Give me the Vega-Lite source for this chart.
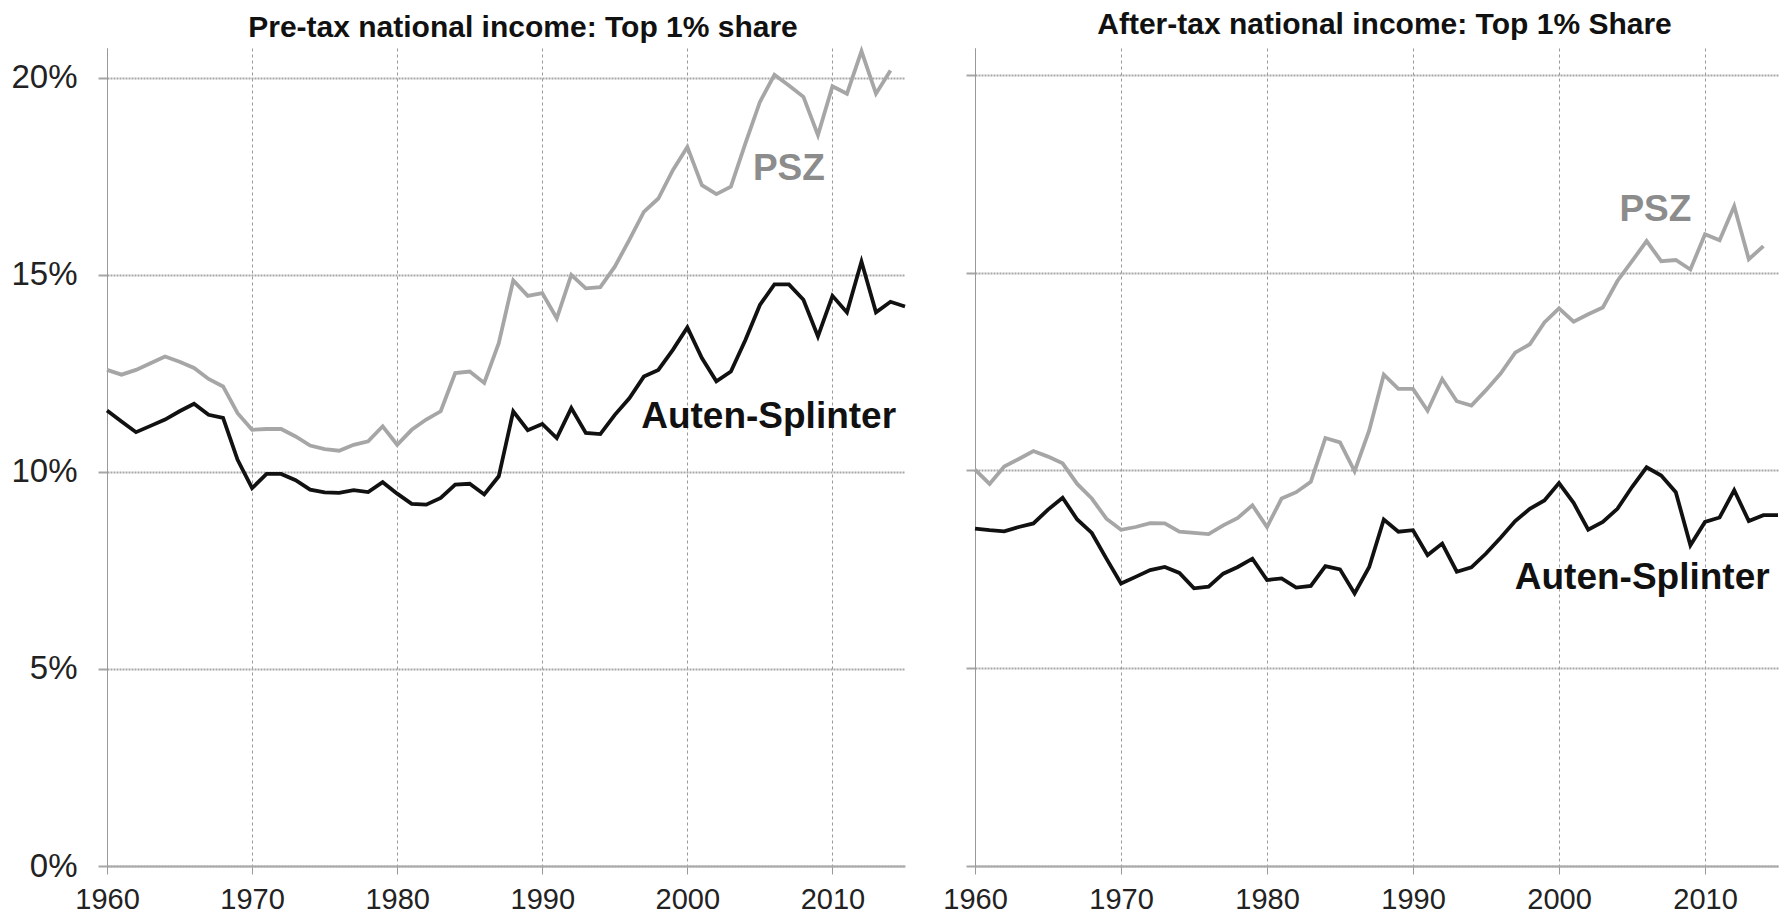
{
  "$schema": "https://vega.github.io/schema/vega-lite/v6.json",
  "background": "white",
  "padding": {"left": 10, "top": 10, "right": 5, "bottom": 3},
  "config": {"view": {"stroke": null}},
  "spacing": 70,
  "bounds": "flush",
  "datasets": {
    "lines": [
      {"panel":"pre","series":"PSZ","year":1960,"value":12.59},{"panel":"pre","series":"PSZ","year":1961,"value":12.47},{"panel":"pre","series":"PSZ","year":1962,"value":12.59},{"panel":"pre","series":"PSZ","year":1963,"value":12.76},{"panel":"pre","series":"PSZ","year":1964,"value":12.93},{"panel":"pre","series":"PSZ","year":1965,"value":12.80},{"panel":"pre","series":"PSZ","year":1966,"value":12.64},{"panel":"pre","series":"PSZ","year":1967,"value":12.36},{"panel":"pre","series":"PSZ","year":1968,"value":12.17},{"panel":"pre","series":"PSZ","year":1969,"value":11.49},
      {"panel":"pre","series":"PSZ","year":1970,"value":11.07},{"panel":"pre","series":"PSZ","year":1971,"value":11.09},{"panel":"pre","series":"PSZ","year":1972,"value":11.09},{"panel":"pre","series":"PSZ","year":1973,"value":10.90},{"panel":"pre","series":"PSZ","year":1974,"value":10.67},{"panel":"pre","series":"PSZ","year":1975,"value":10.58},{"panel":"pre","series":"PSZ","year":1976,"value":10.54},{"panel":"pre","series":"PSZ","year":1977,"value":10.69},{"panel":"pre","series":"PSZ","year":1978,"value":10.78},{"panel":"pre","series":"PSZ","year":1979,"value":11.16},
      {"panel":"pre","series":"PSZ","year":1980,"value":10.69},{"panel":"pre","series":"PSZ","year":1981,"value":11.07},{"panel":"pre","series":"PSZ","year":1982,"value":11.33},{"panel":"pre","series":"PSZ","year":1983,"value":11.54},{"panel":"pre","series":"PSZ","year":1984,"value":12.51},{"panel":"pre","series":"PSZ","year":1985,"value":12.55},{"panel":"pre","series":"PSZ","year":1986,"value":12.26},{"panel":"pre","series":"PSZ","year":1987,"value":13.27},{"panel":"pre","series":"PSZ","year":1988,"value":14.86},{"panel":"pre","series":"PSZ","year":1989,"value":14.47},
      {"panel":"pre","series":"PSZ","year":1990,"value":14.54},{"panel":"pre","series":"PSZ","year":1991,"value":13.90},{"panel":"pre","series":"PSZ","year":1992,"value":15.00},{"panel":"pre","series":"PSZ","year":1993,"value":14.66},{"panel":"pre","series":"PSZ","year":1994,"value":14.69},{"panel":"pre","series":"PSZ","year":1995,"value":15.21},{"panel":"pre","series":"PSZ","year":1996,"value":15.89},{"panel":"pre","series":"PSZ","year":1997,"value":16.60},{"panel":"pre","series":"PSZ","year":1998,"value":16.94},{"panel":"pre","series":"PSZ","year":1999,"value":17.66},
      {"panel":"pre","series":"PSZ","year":2000,"value":18.25},{"panel":"pre","series":"PSZ","year":2001,"value":17.28},{"panel":"pre","series":"PSZ","year":2002,"value":17.05},{"panel":"pre","series":"PSZ","year":2003,"value":17.24},{"panel":"pre","series":"PSZ","year":2004,"value":18.34},{"panel":"pre","series":"PSZ","year":2005,"value":19.39},{"panel":"pre","series":"PSZ","year":2006,"value":20.08},{"panel":"pre","series":"PSZ","year":2007,"value":19.81},{"panel":"pre","series":"PSZ","year":2008,"value":19.52},{"panel":"pre","series":"PSZ","year":2009,"value":18.55},
      {"panel":"pre","series":"PSZ","year":2010,"value":19.79},{"panel":"pre","series":"PSZ","year":2011,"value":19.60},{"panel":"pre","series":"PSZ","year":2012,"value":20.68},{"panel":"pre","series":"PSZ","year":2013,"value":19.60},{"panel":"pre","series":"PSZ","year":2014,"value":20.19},

      {"panel":"pre","series":"Auten-Splinter","year":1960,"value":11.56},{"panel":"pre","series":"Auten-Splinter","year":1961,"value":11.28},{"panel":"pre","series":"Auten-Splinter","year":1962,"value":11.01},{"panel":"pre","series":"Auten-Splinter","year":1963,"value":11.17},{"panel":"pre","series":"Auten-Splinter","year":1964,"value":11.33},{"panel":"pre","series":"Auten-Splinter","year":1965,"value":11.54},{"panel":"pre","series":"Auten-Splinter","year":1966,"value":11.73},{"panel":"pre","series":"Auten-Splinter","year":1967,"value":11.45},{"panel":"pre","series":"Auten-Splinter","year":1968,"value":11.37},{"panel":"pre","series":"Auten-Splinter","year":1969,"value":10.31},
      {"panel":"pre","series":"Auten-Splinter","year":1970,"value":9.59},{"panel":"pre","series":"Auten-Splinter","year":1971,"value":9.95},{"panel":"pre","series":"Auten-Splinter","year":1972,"value":9.95},{"panel":"pre","series":"Auten-Splinter","year":1973,"value":9.79},{"panel":"pre","series":"Auten-Splinter","year":1974,"value":9.55},{"panel":"pre","series":"Auten-Splinter","year":1975,"value":9.48},{"panel":"pre","series":"Auten-Splinter","year":1976,"value":9.47},{"panel":"pre","series":"Auten-Splinter","year":1977,"value":9.54},{"panel":"pre","series":"Auten-Splinter","year":1978,"value":9.49},{"panel":"pre","series":"Auten-Splinter","year":1979,"value":9.74},
      {"panel":"pre","series":"Auten-Splinter","year":1980,"value":9.45},{"panel":"pre","series":"Auten-Splinter","year":1981,"value":9.19},{"panel":"pre","series":"Auten-Splinter","year":1982,"value":9.17},{"panel":"pre","series":"Auten-Splinter","year":1983,"value":9.34},{"panel":"pre","series":"Auten-Splinter","year":1984,"value":9.68},{"panel":"pre","series":"Auten-Splinter","year":1985,"value":9.70},{"panel":"pre","series":"Auten-Splinter","year":1986,"value":9.43},{"panel":"pre","series":"Auten-Splinter","year":1987,"value":9.89},{"panel":"pre","series":"Auten-Splinter","year":1988,"value":11.54},{"panel":"pre","series":"Auten-Splinter","year":1989,"value":11.06},
      {"panel":"pre","series":"Auten-Splinter","year":1990,"value":11.22},{"panel":"pre","series":"Auten-Splinter","year":1991,"value":10.86},{"panel":"pre","series":"Auten-Splinter","year":1992,"value":11.62},{"panel":"pre","series":"Auten-Splinter","year":1993,"value":10.99},{"panel":"pre","series":"Auten-Splinter","year":1994,"value":10.96},{"panel":"pre","series":"Auten-Splinter","year":1995,"value":11.45},{"panel":"pre","series":"Auten-Splinter","year":1996,"value":11.87},{"panel":"pre","series":"Auten-Splinter","year":1997,"value":12.42},{"panel":"pre","series":"Auten-Splinter","year":1998,"value":12.59},{"panel":"pre","series":"Auten-Splinter","year":1999,"value":13.10},
      {"panel":"pre","series":"Auten-Splinter","year":2000,"value":13.67},{"panel":"pre","series":"Auten-Splinter","year":2001,"value":12.89},{"panel":"pre","series":"Auten-Splinter","year":2002,"value":12.30},{"panel":"pre","series":"Auten-Splinter","year":2003,"value":12.55},{"panel":"pre","series":"Auten-Splinter","year":2004,"value":13.35},{"panel":"pre","series":"Auten-Splinter","year":2005,"value":14.24},{"panel":"pre","series":"Auten-Splinter","year":2006,"value":14.76},{"panel":"pre","series":"Auten-Splinter","year":2007,"value":14.76},{"panel":"pre","series":"Auten-Splinter","year":2008,"value":14.37},{"panel":"pre","series":"Auten-Splinter","year":2009,"value":13.44},
      {"panel":"pre","series":"Auten-Splinter","year":2010,"value":14.47},{"panel":"pre","series":"Auten-Splinter","year":2011,"value":14.05},{"panel":"pre","series":"Auten-Splinter","year":2012,"value":15.34},{"panel":"pre","series":"Auten-Splinter","year":2013,"value":14.05},{"panel":"pre","series":"Auten-Splinter","year":2014,"value":14.32},{"panel":"pre","series":"Auten-Splinter","year":2015,"value":14.20},

      {"panel":"post","series":"PSZ","year":1960,"value":10.02},{"panel":"post","series":"PSZ","year":1961,"value":9.66},{"panel":"post","series":"PSZ","year":1962,"value":10.10},{"panel":"post","series":"PSZ","year":1963,"value":10.29},{"panel":"post","series":"PSZ","year":1964,"value":10.49},{"panel":"post","series":"PSZ","year":1965,"value":10.35},{"panel":"post","series":"PSZ","year":1966,"value":10.18},{"panel":"post","series":"PSZ","year":1967,"value":9.66},{"panel":"post","series":"PSZ","year":1968,"value":9.29},{"panel":"post","series":"PSZ","year":1969,"value":8.78},
      {"panel":"post","series":"PSZ","year":1970,"value":8.50},{"panel":"post","series":"PSZ","year":1971,"value":8.57},{"panel":"post","series":"PSZ","year":1972,"value":8.67},{"panel":"post","series":"PSZ","year":1973,"value":8.66},{"panel":"post","series":"PSZ","year":1974,"value":8.45},{"panel":"post","series":"PSZ","year":1975,"value":8.42},{"panel":"post","series":"PSZ","year":1976,"value":8.39},{"panel":"post","series":"PSZ","year":1977,"value":8.61},{"panel":"post","series":"PSZ","year":1978,"value":8.80},{"panel":"post","series":"PSZ","year":1979,"value":9.12},
      {"panel":"post","series":"PSZ","year":1980,"value":8.57},{"panel":"post","series":"PSZ","year":1981,"value":9.29},{"panel":"post","series":"PSZ","year":1982,"value":9.45},{"panel":"post","series":"PSZ","year":1983,"value":9.71},{"panel":"post","series":"PSZ","year":1984,"value":10.82},{"panel":"post","series":"PSZ","year":1985,"value":10.71},{"panel":"post","series":"PSZ","year":1986,"value":9.98},{"panel":"post","series":"PSZ","year":1987,"value":11.01},{"panel":"post","series":"PSZ","year":1988,"value":12.42},{"panel":"post","series":"PSZ","year":1989,"value":12.06},
      {"panel":"post","series":"PSZ","year":1990,"value":12.06},{"panel":"post","series":"PSZ","year":1991,"value":11.51},{"panel":"post","series":"PSZ","year":1992,"value":12.31},{"panel":"post","series":"PSZ","year":1993,"value":11.75},{"panel":"post","series":"PSZ","year":1994,"value":11.64},{"panel":"post","series":"PSZ","year":1995,"value":12.03},{"panel":"post","series":"PSZ","year":1996,"value":12.45},{"panel":"post","series":"PSZ","year":1997,"value":12.98},{"panel":"post","series":"PSZ","year":1998,"value":13.19},{"panel":"post","series":"PSZ","year":1999,"value":13.74},
      {"panel":"post","series":"PSZ","year":2000,"value":14.10},{"panel":"post","series":"PSZ","year":2001,"value":13.76},{"panel":"post","series":"PSZ","year":2002,"value":13.95},{"panel":"post","series":"PSZ","year":2003,"value":14.12},{"panel":"post","series":"PSZ","year":2004,"value":14.79},{"panel":"post","series":"PSZ","year":2005,"value":15.29},{"panel":"post","series":"PSZ","year":2006,"value":15.80},{"panel":"post","series":"PSZ","year":2007,"value":15.29},{"panel":"post","series":"PSZ","year":2008,"value":15.32},{"panel":"post","series":"PSZ","year":2009,"value":15.08},
      {"panel":"post","series":"PSZ","year":2010,"value":15.97},{"panel":"post","series":"PSZ","year":2011,"value":15.82},{"panel":"post","series":"PSZ","year":2012,"value":16.68},{"panel":"post","series":"PSZ","year":2013,"value":15.34},{"panel":"post","series":"PSZ","year":2014,"value":15.67},

      {"panel":"post","series":"Auten-Splinter","year":1960,"value":8.53},{"panel":"post","series":"Auten-Splinter","year":1961,"value":8.49},{"panel":"post","series":"Auten-Splinter","year":1962,"value":8.46},{"panel":"post","series":"Auten-Splinter","year":1963,"value":8.57},{"panel":"post","series":"Auten-Splinter","year":1964,"value":8.66},{"panel":"post","series":"Auten-Splinter","year":1965,"value":9.01},{"panel":"post","series":"Auten-Splinter","year":1966,"value":9.31},{"panel":"post","series":"Auten-Splinter","year":1967,"value":8.76},{"panel":"post","series":"Auten-Splinter","year":1968,"value":8.42},{"panel":"post","series":"Auten-Splinter","year":1969,"value":7.77},
      {"panel":"post","series":"Auten-Splinter","year":1970,"value":7.14},{"panel":"post","series":"Auten-Splinter","year":1971,"value":7.31},{"panel":"post","series":"Auten-Splinter","year":1972,"value":7.48},{"panel":"post","series":"Auten-Splinter","year":1973,"value":7.56},{"panel":"post","series":"Auten-Splinter","year":1974,"value":7.41},{"panel":"post","series":"Auten-Splinter","year":1975,"value":7.02},{"panel":"post","series":"Auten-Splinter","year":1976,"value":7.06},{"panel":"post","series":"Auten-Splinter","year":1977,"value":7.39},{"panel":"post","series":"Auten-Splinter","year":1978,"value":7.56},{"panel":"post","series":"Auten-Splinter","year":1979,"value":7.77},
      {"panel":"post","series":"Auten-Splinter","year":1980,"value":7.23},{"panel":"post","series":"Auten-Splinter","year":1981,"value":7.27},{"panel":"post","series":"Auten-Splinter","year":1982,"value":7.04},{"panel":"post","series":"Auten-Splinter","year":1983,"value":7.08},{"panel":"post","series":"Auten-Splinter","year":1984,"value":7.58},{"panel":"post","series":"Auten-Splinter","year":1985,"value":7.50},{"panel":"post","series":"Auten-Splinter","year":1986,"value":6.89},{"panel":"post","series":"Auten-Splinter","year":1987,"value":7.56},{"panel":"post","series":"Auten-Splinter","year":1988,"value":8.76},{"panel":"post","series":"Auten-Splinter","year":1989,"value":8.45},
      {"panel":"post","series":"Auten-Splinter","year":1990,"value":8.49},{"panel":"post","series":"Auten-Splinter","year":1991,"value":7.86},{"panel":"post","series":"Auten-Splinter","year":1992,"value":8.15},{"panel":"post","series":"Auten-Splinter","year":1993,"value":7.44},{"panel":"post","series":"Auten-Splinter","year":1994,"value":7.55},{"panel":"post","series":"Auten-Splinter","year":1995,"value":7.90},{"panel":"post","series":"Auten-Splinter","year":1996,"value":8.30},{"panel":"post","series":"Auten-Splinter","year":1997,"value":8.72},{"panel":"post","series":"Auten-Splinter","year":1998,"value":9.03},{"panel":"post","series":"Auten-Splinter","year":1999,"value":9.24},
      {"panel":"post","series":"Auten-Splinter","year":2000,"value":9.68},{"panel":"post","series":"Auten-Splinter","year":2001,"value":9.18},{"panel":"post","series":"Auten-Splinter","year":2002,"value":8.50},{"panel":"post","series":"Auten-Splinter","year":2003,"value":8.70},{"panel":"post","series":"Auten-Splinter","year":2004,"value":9.03},{"panel":"post","series":"Auten-Splinter","year":2005,"value":9.58},{"panel":"post","series":"Auten-Splinter","year":2006,"value":10.08},{"panel":"post","series":"Auten-Splinter","year":2007,"value":9.87},{"panel":"post","series":"Auten-Splinter","year":2008,"value":9.45},{"panel":"post","series":"Auten-Splinter","year":2009,"value":8.11},
      {"panel":"post","series":"Auten-Splinter","year":2010,"value":8.70},{"panel":"post","series":"Auten-Splinter","year":2011,"value":8.81},{"panel":"post","series":"Auten-Splinter","year":2012,"value":9.50},{"panel":"post","series":"Auten-Splinter","year":2013,"value":8.72},{"panel":"post","series":"Auten-Splinter","year":2014,"value":8.87},{"panel":"post","series":"Auten-Splinter","year":2015,"value":8.87}
    ],
    "labels": [
      {"panel":"pre","series":"PSZ","label":"PSZ","year":2007.0,"value":17.7},
      {"panel":"pre","series":"Auten-Splinter","label":"Auten-Splinter","year":2005.6,"value":11.4},
      {"panel":"post","series":"PSZ","label":"PSZ","year":2006.6,"value":16.59},
      {"panel":"post","series":"Auten-Splinter","label":"Auten-Splinter","year":2005.7,"value":7.29}
    ]
  },
  "hconcat": [
    {
      "width": 798,
      "height": 818,
      "title": {"text": "Pre-tax national income: Top 1% share", "font": "Liberation Sans", "fontSize": 30, "fontWeight": "bold", "color": "#111111", "frame": "group", "anchor": "middle", "baseline": "alphabetic", "offset": -23, "dx": 17},
      "layer": [
        {
          "data": {"name": "lines"},
          "transform": [{"filter": "datum.panel === 'pre'"}],
          "mark": {"type": "line", "strokeWidth": 3.8},
          "encoding": {
            "x": {"field": "year", "type": "quantitative", "scale": {"domain": [1960, 2015], "nice": false, "zero": false},
                  "axis": {"title": null, "values": [1960, 1970, 1980, 1990, 2000, 2010], "format": "d", "labelFlush": false, "labelOverlap": false,
                           "grid": true, "gridColor": "#999999", "gridWidth": 1, "gridDash": [3, 3],
                           "tickSize": 8, "tickColor": "#999999", "tickWidth": 1,
                           "domain": true, "domainColor": "#aaaaaa", "domainWidth": 2,
                           "labelFont": "Liberation Sans", "labelFontSize": 29, "labelColor": "#222222", "labelPadding": 11}},
            "y": {"field": "value", "type": "quantitative", "scale": {"domain": [0, 20.76], "nice": false},
                  "axis": {"title": null, "values": [0, 5, 10, 15, 20], "labelExpr": "datum.value + '%'", "labelFlush": false, "labelOverlap": false,
                           "grid": true, "gridColor": "#a6a6a6", "gridWidth": 2, "gridDash": [2, 1],
                           "tickSize": 9, "tickColor": "#a6a6a6", "tickWidth": 2,
                           "domain": true, "domainColor": "#999999", "domainWidth": 1,
                           "labelFont": "Liberation Sans", "labelFontSize": 33, "labelColor": "#222222", "labelPadding": 21}},
            "color": {"field": "series", "type": "nominal", "scale": {"domain": ["PSZ", "Auten-Splinter"], "range": ["#a6a6a6", "#111111"]}, "legend": null}
          }
        },
        {
          "data": {"name": "labels"},
          "transform": [{"filter": "datum.panel === 'pre'"}],
          "mark": {"type": "text", "font": "Liberation Sans", "fontSize": 37, "fontWeight": "bold", "align": "center", "baseline": "middle"},
          "encoding": {
            "x": {"field": "year", "type": "quantitative"},
            "y": {"field": "value", "type": "quantitative"},
            "text": {"field": "label"},
            "color": {"field": "series", "type": "nominal", "scale": {"domain": ["PSZ", "Auten-Splinter"], "range": ["#8c8c8c", "#111111"]}, "legend": null}
          }
        }
      ],
      "resolve": {"scale": {"color": "independent"}}
    },
    {
      "width": 803,
      "height": 818,
      "title": {"text": "After-tax national income: Top 1% Share", "font": "Liberation Sans", "fontSize": 30, "fontWeight": "bold", "color": "#111111", "frame": "group", "anchor": "middle", "baseline": "alphabetic", "offset": -16, "dx": 8},
      "layer": [
        {
          "data": {"name": "lines"},
          "transform": [{"filter": "datum.panel === 'post'"}],
          "mark": {"type": "line", "strokeWidth": 3.8},
          "encoding": {
            "x": {"field": "year", "type": "quantitative", "scale": {"domain": [1960, 2015], "nice": false, "zero": false},
                  "axis": {"title": null, "values": [1960, 1970, 1980, 1990, 2000, 2010], "format": "d", "labelFlush": false, "labelOverlap": false,
                           "grid": true, "gridColor": "#999999", "gridWidth": 1, "gridDash": [3, 3],
                           "tickSize": 8, "tickColor": "#999999", "tickWidth": 1,
                           "domain": true, "domainColor": "#aaaaaa", "domainWidth": 2,
                           "labelFont": "Liberation Sans", "labelFontSize": 29, "labelColor": "#222222", "labelPadding": 11}},
            "y": {"field": "value", "type": "quantitative", "scale": {"domain": [0, 20.68], "nice": false},
                  "axis": {"title": null, "values": [0, 5, 10, 15, 20], "labels": false,
                           "grid": true, "gridColor": "#a6a6a6", "gridWidth": 2, "gridDash": [2, 1],
                           "tickSize": 9, "tickColor": "#a6a6a6", "tickWidth": 2,
                           "domain": true, "domainColor": "#999999", "domainWidth": 1}},
            "color": {"field": "series", "type": "nominal", "scale": {"domain": ["PSZ", "Auten-Splinter"], "range": ["#a6a6a6", "#111111"]}, "legend": null}
          }
        },
        {
          "data": {"name": "labels"},
          "transform": [{"filter": "datum.panel === 'post'"}],
          "mark": {"type": "text", "font": "Liberation Sans", "fontSize": 37, "fontWeight": "bold", "align": "center", "baseline": "middle"},
          "encoding": {
            "x": {"field": "year", "type": "quantitative"},
            "y": {"field": "value", "type": "quantitative"},
            "text": {"field": "label"},
            "color": {"field": "series", "type": "nominal", "scale": {"domain": ["PSZ", "Auten-Splinter"], "range": ["#8c8c8c", "#111111"]}, "legend": null}
          }
        }
      ],
      "resolve": {"scale": {"color": "independent"}}
    }
  ]
}
